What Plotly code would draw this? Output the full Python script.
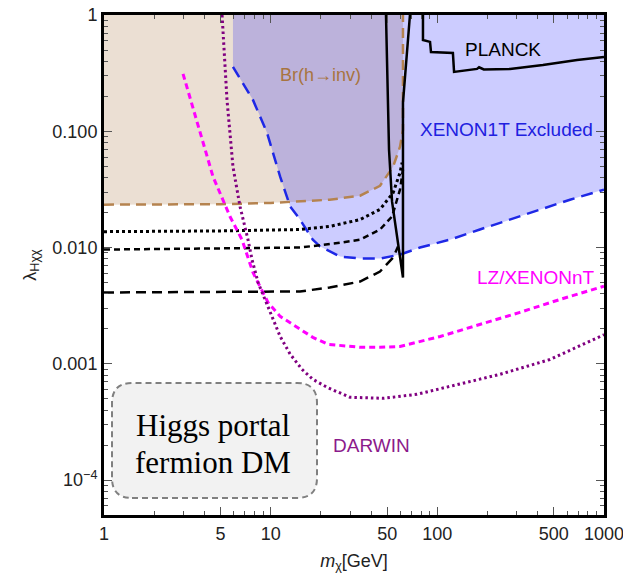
import plotly.graph_objects as go

# ---------------- data ----------------
# Br(h->inv) excluded region boundary
br_x = [1, 5, 10, 15.0, 22.6, 34.4, 45.3, 54.3, 59.7, 62.2, 62.2]
br_y = [0.0234, 0.0236, 0.0242, 0.0248, 0.0258, 0.0279, 0.0340, 0.0496, 0.0736, 0.103, 1.0]

# XENON1T exclusion boundary
xenon_x = [5.94, 7.83, 9.51, 11.4, 13.1, 15.0, 17.9, 19.8, 26.1, 34.4, 45.3, 59.7, 78.7, 119, 180, 273, 413, 625, 1000]
xenon_y = [0.358, 0.186, 0.097, 0.0407, 0.0225, 0.0174, 0.0117, 0.0102, 0.00837, 0.00805, 0.00805, 0.0087,
           0.0100, 0.0117, 0.0143, 0.0174, 0.0212, 0.0258, 0.0315]

# PLANCK relic density contours
planck_res_x = [49.2, 51.3, 53.5, 62.2, 62.2, 68.5]
planck_res_y = [1.0, 0.0694, 0.0248, 0.00552, 0.176, 1.0]
planck_hi_x = [82, 82, 90.4, 91.6, 124, 126, 173, 178, 190, 273, 430, 689, 1000]
planck_hi_y = [1.0, 0.610, 0.587, 0.481, 0.472, 0.324, 0.344, 0.355, 0.340, 0.344, 0.372, 0.411, 0.436]

# black benchmark curves
dot_x = [1, 5, 15.0, 22.6, 34.4, 45.3, 54.3, 59.7, 61.5]
dot_y = [0.0137, 0.0139, 0.0143, 0.0152, 0.0174, 0.0213, 0.0296, 0.0440, 0.0537]
sdash_x = [1, 5, 15.0, 26.1, 34.4, 45.3, 53.5, 59.7, 62.2]
sdash_y = [0.00961, 0.0098, 0.0100, 0.0110, 0.0117, 0.0143, 0.0185, 0.0315, 0.0468]
ldash_x = [1, 5, 15.0, 22.6, 34.4, 45.3, 54.2, 58.1]
ldash_y = [0.00411, 0.00414, 0.00419, 0.00454, 0.0051, 0.00622, 0.0082, 0.0102]

# LZ / XENONnT projection
lz_x = [2.98, 3.77, 4.51, 5.70, 6.73, 7.83, 8.63, 9.64, 11.4, 14.4, 17.9, 22.1, 34.4, 45.3, 59.7, 104, 180, 313, 545, 1000]
lz_y = [0.312, 0.097, 0.0407, 0.0185, 0.0117, 0.00610, 0.00462, 0.00337, 0.00256, 0.00206, 0.00169, 0.00147,
        0.00139, 0.00139, 0.00141, 0.00172, 0.00218, 0.00277, 0.00358, 0.00465]

# DARWIN projection
darwin_x = [5.11, 5.47, 5.94, 6.55, 7.31, 7.73, 8.40, 9.25, 10.2, 11.4, 13.1, 15.4, 17.9, 21.8, 29.9, 47.2, 75.5, 119, 238, 474, 1000]
darwin_y = [1.0, 0.186, 0.0496, 0.0225, 0.0117, 0.00789, 0.00501, 0.00358, 0.00256, 0.00172, 0.00121, 0.000898,
            0.000736, 0.000628, 0.000516, 0.000505, 0.000547, 0.000641, 0.000813, 0.00109, 0.00178]

x_ticks = [1, 5, 10, 50, 100, 500, 1000]
x_ticktext = ["1", "5", "10", "50", "100", "500", "1000"]
y_ticks = [1e-4, 1e-3, 1e-2, 1e-1, 1]
y_ticktext = ["10<sup>\u22124</sup>", "0.001", "0.010", "0.100", "1"]
x_minor = [m * d for d in (1, 10, 100) for m in range(2, 10)]
y_minor = [m * d for d in (1e-5, 1e-4, 1e-3, 1e-2, 1e-1) for m in range(2, 10)]

# ---------------- figure ----------------
fig = go.Figure()

# Br(h->inv) filled region
fig.add_trace(go.Scatter(x=[1] + br_x + [1], y=[1] + br_y + [1], fill="toself",
                         fillcolor="rgba(190,150,110,0.30)", line=dict(width=0),
                         mode="lines", hoverinfo="skip", showlegend=False))
# XENON1T filled region
fig.add_trace(go.Scatter(x=[5.94] + xenon_x + [1000, 5.94], y=[1] + xenon_y + [1, 1], fill="toself",
                         fillcolor="rgba(0,0,255,0.20)", line=dict(width=0),
                         mode="lines", hoverinfo="skip", showlegend=False))

def line(x, y, color, width, dash):
    fig.add_trace(go.Scatter(x=x, y=y, mode="lines", showlegend=False, hoverinfo="skip",
                             line=dict(color=color, width=width, dash=dash)))

line(br_x, br_y, "#b5834f", 2.5, "10px,6px")
line(xenon_x, xenon_y, "#1e28e6", 2.5, "12px,7px")
line(dot_x, dot_y, "black", 3, "3px,3px")
line(sdash_x, sdash_y, "black", 2.5, "6px,4px")
line(ldash_x, ldash_y, "black", 2.5, "10px,6px")
line(lz_x, lz_y, "#ff00ff", 3, "6px,4px")
line(darwin_x, darwin_y, "#800080", 3, "2.5px,3px")
line(planck_res_x, planck_res_y, "black", 2.5, "solid")
line(planck_hi_x, planck_hi_y, "black", 2.5, "solid")

font_sans = "Liberation Sans"

def label(text, px, py, color, size=19, family=font_sans):
    fig.add_annotation(text=text, x=(px - 104) / 500, y=(515 - py) / 500, xref="paper", yref="paper",
                       xanchor="center", yanchor="middle",
                       showarrow=False, font=dict(family=family, size=size, color=color))

label("PLANCK", 503, 50, "black")
label("Br(h\u2192inv)", 320, 75, "#a87440", 18)
label("XENON1T Excluded", 506, 130, "#2020e0")
label("LZ/XENONnT", 536, 277, "#ff00ff")
label("DARWIN", 371, 445, "#8b1a8b")

# rounded dashed box
x0, x1, y0, y1, r = 0.016, 0.426, 0.034, 0.264, 0.04
path = (f"M {x0 + r},{y0} L {x1 - r},{y0} Q {x1},{y0} {x1},{y0 + r} L {x1},{y1 - r} "
        f"Q {x1},{y1} {x1 - r},{y1} L {x0 + r},{y1} Q {x0},{y1} {x0},{y1 - r} "
        f"L {x0},{y0 + r} Q {x0},{y0} {x0 + r},{y0} Z")
fig.add_shape(type="path", path=path, xref="paper", yref="paper",
              fillcolor="#f2f2f2", line=dict(color="#808080", width=2, dash="6px,4px"))
label("Higgs portal", 213, 425, "black", 31, "Liberation Serif")
label("fermion DM", 213, 462, "black", 31, "Liberation Serif")

axis_common = dict(type="log", showgrid=False, zeroline=False, showline=True, linewidth=3,
                   linecolor="black", mirror="allticks", ticks="inside", ticklen=8, tickwidth=1,
                   tickcolor="#555555", automargin=False, ticklabeloverflow="allow",
                   tickfont=dict(family=font_sans, size=18, color="#222222"))

# the page body has an 8px margin, so the figure is shrunk by 8px and margins shifted
fig.update_layout(
    width=623, height=570,
    margin=dict(l=96, r=27, t=7, b=63, autoexpand=False),
    paper_bgcolor="white", plot_bgcolor="white",
    font=dict(family=font_sans),
    xaxis=dict(range=[0, 3], tickmode="array", tickvals=x_ticks, ticktext=x_ticktext,
               minor=dict(tickmode="array", tickvals=x_minor, ticks="inside", ticklen=4,
                          tickcolor="#555555"),
               title=dict(text="<i>m</i><sub>\u03c7</sub>[GeV]", font=dict(size=18, color="#222222"),
                          standoff=12),
               **axis_common),
    yaxis=dict(range=[-4.3, 0], tickmode="array", tickvals=y_ticks, ticktext=y_ticktext,
               minor=dict(tickmode="array", tickvals=y_minor, ticks="inside", ticklen=4,
                          tickcolor="#555555"),
               title=dict(text="\u03bb<sub>H\u03c7\u03c7</sub>", font=dict(size=18, color="#222222"),
                          standoff=12),
               **axis_common),
)

fig.write_html("out.html")
